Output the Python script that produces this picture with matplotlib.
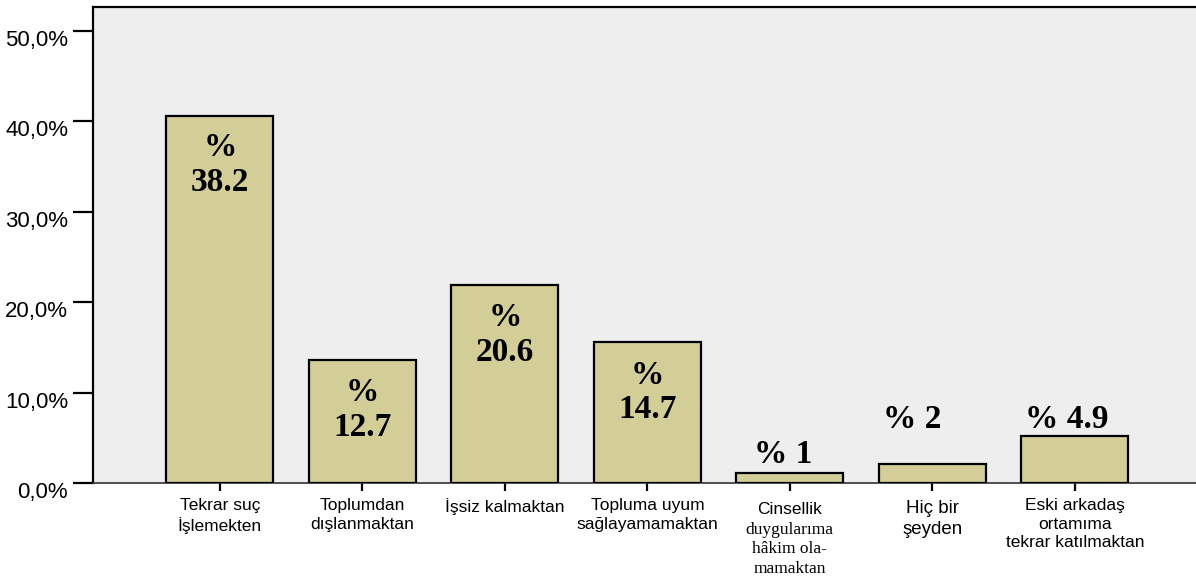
import matplotlib
matplotlib.use("Agg")
import matplotlib.pyplot as plt
from matplotlib.ticker import FuncFormatter
from matplotlib.transforms import ScaledTranslation

# veriler
kategoriler = ["Tekrar suç\nİşlemekten", "Toplumdan\ndışlanmaktan", "İşsiz kalmaktan",
               "Topluma uyum\nsağlayamamaktan", "Cinsellik", "Hiç bir\nşeyden",
               "Eski arkadaş\nortamıma\ntekrar katılmaktan"]
cinsellik_devam = "duygularıma\nhâkim ola-\nmamaktan"
yuzdeler = [40.6, 13.6, 21.9, 15.6, 1.1, 2.1, 5.2]
etiketler = ["%\n38.2", "%\n12.7", "%\n20.6", "%\n14.7", "% 1", "% 2", "% 4.9"]
yticks = [0, 10, 20, 30, 40, 50]

# etiket yerleşimi (bar tepesine göre kaydırma, yüzde birimi)
etiket_dy = [-5.4, -5.5, -5.5, -5.6, 2.0, 4.9, 1.8]
etiket_dx = [0, 0, 0, 0, -0.05, -0.14, -0.06]

fig = plt.figure(figsize=(11.96, 5.81), dpi=100)
ax = fig.add_axes([93/1196, 1 - 483/581, 1 - 93/1196, (483 - 7)/581])
ax.set_facecolor("#EEEEEE")

x = list(range(len(yuzdeler)))
ax.bar(x, yuzdeler, width=0.75, color="#D3CE98", edgecolor="black", linewidth=1.6, zorder=3)

for i in x:
    ax.text(i + etiket_dx[i], yuzdeler[i] + etiket_dy[i], etiketler[i], ha="center", va="center",
            family="Liberation Serif", fontweight="bold", fontsize=24, linespacing=1.15, zorder=4)

ax.set_xlim(-0.89, 6.85)
ax.set_ylim(0, 52.65)
ax.set_yticks(yticks)
ax.yaxis.set_major_formatter(FuncFormatter(lambda v, p: ("%.1f%%" % v).replace(".", ",")))
ax.tick_params(axis="y", length=14.4, width=1.6, pad=3.5, labelsize=16)
for lab in ax.get_yticklabels():
    lab.set_family("Liberation Sans")
    lab.set_transform(lab.get_transform() + ScaledTranslation(0, -7/100, fig.dpi_scale_trans))

ax.set_xticks(x)
ax.set_xticklabels([])
ax.tick_params(axis="x", length=6, width=1.6)

for i, ad in enumerate(kategoriler):
    if i == 4:
        ax.annotate(ad, (i, 0), xytext=(0, -14), textcoords="offset points", ha="center", va="top",
                    family="Liberation Sans", fontsize=12.5, annotation_clip=False)
        ax.annotate(cinsellik_devam, (i, 0), xytext=(0, -28), textcoords="offset points", ha="center",
                    va="top", family="Liberation Serif", fontsize=12.5, linespacing=1.3,
                    annotation_clip=False)
    elif i == 5:
        ax.annotate(ad, (i, 0), xytext=(0, -12), textcoords="offset points", ha="center", va="top",
                    family="Liberation Sans", fontsize=13.5, linespacing=1.3, annotation_clip=False)
    else:
        ax.annotate(ad, (i, 0), xytext=(0, -11), textcoords="offset points", ha="center", va="top",
                    family="Liberation Sans", fontsize=12.5, linespacing=1.3, annotation_clip=False)

for s in ["left", "top"]:
    ax.spines[s].set_linewidth(1.6)
ax.spines["bottom"].set_linewidth(1.2)
ax.spines["bottom"].set_color("#333333")
ax.spines["right"].set_visible(False)

fig.savefig("out.png", dpi=100, facecolor="white")
